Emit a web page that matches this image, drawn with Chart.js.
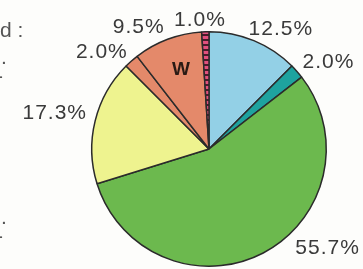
<!DOCTYPE html>
<html>
<head>
<meta charset="utf-8">
<script src="https://cdn.jsdelivr.net/npm/chart.js@4"></script>
<style>
  html, body { margin: 0; padding: 0; background: #fdfdfb; }
  #wrap { width: 363px; height: 269px; position: relative; overflow: hidden; }
</style>
</head>
<body>
<div id="wrap"><canvas id="pie" width="363" height="269"></canvas></div>
<script>
const shares = [12.5, 2.0, 55.7, 17.3, 2.0, 9.5, 1.0];
const shareLabels = ["12.5%", "2.0%", "55.7%", "17.3%", "2.0%", "9.5%", "1.0%"];
const sliceColors = ["#93d0e6", "#1ea39f", "#6cb94e", "#eef38f", "#e4896a", "#e4896a", null];

// where each percentage sits: [angle from top in degrees, distance as share of radius]
const labelPlaces = [[31, 1.19], [54, 1.26], [130, 1.32], [283, 1.35], [312, 1.23], [330, 1.20], [356, 1.10]];

function stripePattern() {
  const c = document.createElement("canvas");
  c.width = 6;
  c.height = 5;
  const g = c.getContext("2d");
  g.fillStyle = "#4a1c2a";
  g.fillRect(0, 0, 6, 5);
  g.fillStyle = "#e2507e";
  g.fillRect(0, 1, 6, 3);
  return g.createPattern(c, "repeat");
}

const labelPlugin = {
  id: "pieLabels",
  afterDraw(chart) {
    const arc = chart.getDatasetMeta(0).data[0];
    const { x, y, outerRadius } = arc;
    const ctx = chart.ctx;
    ctx.save();
    ctx.fillStyle = "#3a3a3a";
    ctx.font = "21px 'Liberation Sans', Arial, sans-serif";
    ctx.letterSpacing = "1px";
    ctx.textAlign = "center";
    ctx.textBaseline = "middle";
    shareLabels.forEach((txt, i) => {
      const [deg, f] = labelPlaces[i];
      const a = deg * Math.PI / 180;
      ctx.fillText(txt, x + Math.sin(a) * outerRadius * f, y - Math.cos(a) * outerRadius * f);
    });
    ctx.letterSpacing = "0px";
    ctx.font = "bold 19px 'Liberation Sans', Arial, sans-serif";
    ctx.fillStyle = "#2a1a14";
    ctx.fillText("W", x - 28, y - 79);

    // cut-off legend text on the left edge
    ctx.font = "21px 'Liberation Sans', Arial, sans-serif";
    ctx.fillStyle = "#555";
    ctx.textAlign = "left";
    ctx.fillText("d :", 0, 31);
    ctx.fillText(".", 1, 58);
    ctx.fillText("-", -4, 77);
    ctx.fillText(".", 1, 218);
    ctx.fillText("-", -4, 237);
    ctx.restore();
  }
};

new Chart(document.getElementById("pie"), {
  type: "pie",
  data: {
    labels: shareLabels,
    datasets: [{
      data: shares,
      backgroundColor: sliceColors.map((c) => c || stripePattern()),
      borderColor: "#2b2b2b",
      borderWidth: 1.5
    }]
  },
  options: {
    responsive: false,
    animation: false,
    layout: { padding: { left: 90, right: 35, top: 31, bottom: 2 } },
    plugins: { legend: { display: false }, tooltip: { enabled: false } }
  },
  plugins: [labelPlugin]
});
</script>
</body>
</html>
